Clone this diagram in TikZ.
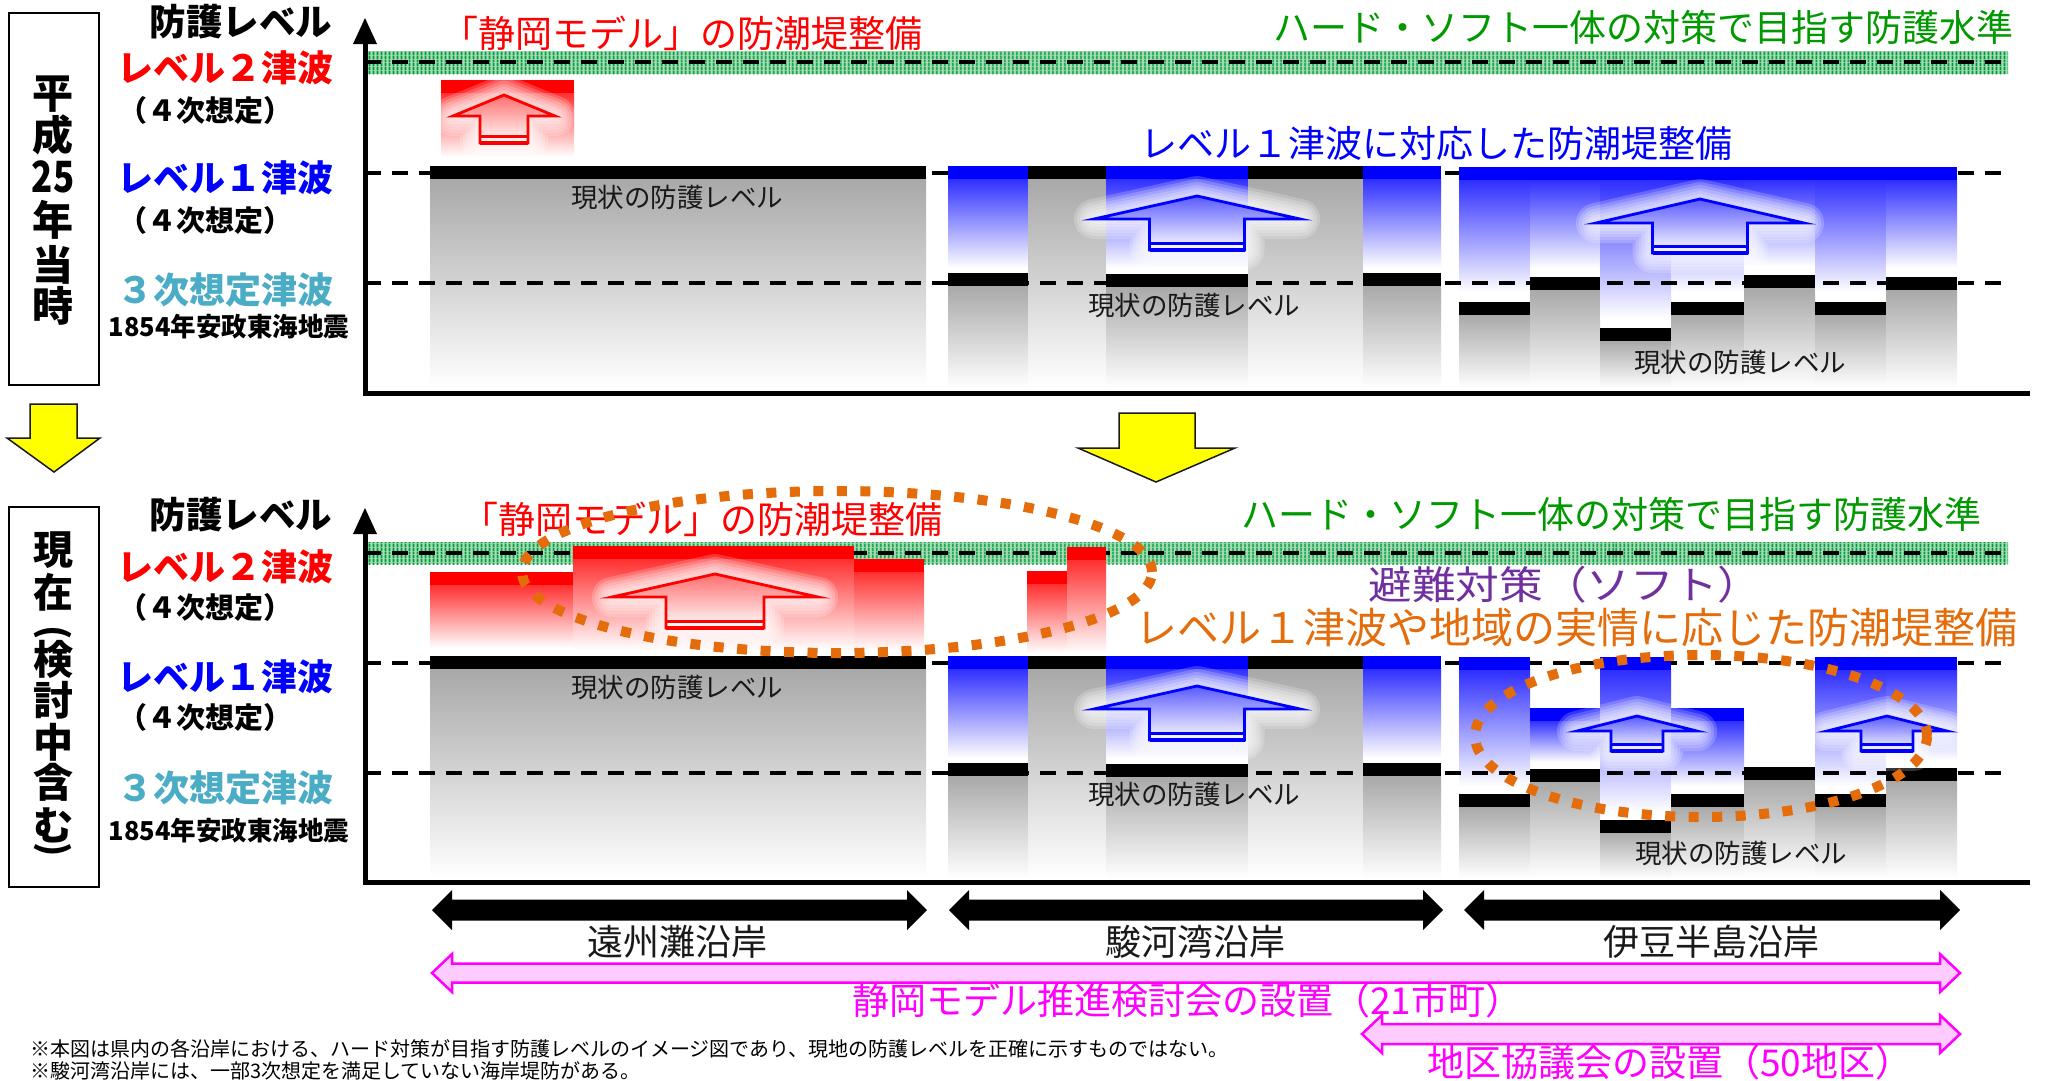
\documentclass[tikz,border=0pt]{standalone}
\usepackage{fontspec}
\usepackage{graphicx}
\usetikzlibrary{patterns.meta}
\newfontfamily\jp{Noto Sans CJK JP}
\definecolor{gtop}{RGB}{168,168,168}
\definecolor{btop}{RGB}{45,45,255}
\definecolor{rtop}{RGB}{255,45,45}
\definecolor{pblue}{RGB}{0,0,255}
\definecolor{pred}{RGB}{255,0,0}
\definecolor{pgreen}{RGB}{0,153,0}
\definecolor{bandgreen}{RGB}{0,150,65}
\definecolor{bandbg}{RGB}{165,222,178}
\definecolor{pcyan}{RGB}{75,172,198}
\definecolor{ppurple}{RGB}{112,48,160}
\definecolor{porange}{RGB}{228,108,10}
\definecolor{pmag}{RGB}{255,0,255}
\definecolor{ppink}{RGB}{255,204,255}
\definecolor{pyellow}{RGB}{255,255,0}
\definecolor{afillb}{RGB}{90,90,255}
\definecolor{afillr}{RGB}{255,110,110}
\definecolor{ink}{RGB}{25,25,25}
\tikzset{
  txt/.style={font=\jp\fontsize{#1}{#1}\selectfont, inner sep=0pt, outer sep=0pt},
  btxt/.style={font=\jp\bfseries\fontsize{#1}{#1}\selectfont, inner sep=0pt, outer sep=0pt},
  lvldash/.style={black, line width=4pt, dash pattern=on 16pt off 11pt},
  dotring/.style={porange, line width=10pt, dash pattern=on 10pt off 13.5pt},
  band/.style={pattern={Lines[angle=90,distance=4pt,line width=2.2pt]}, pattern color=bandgreen},
  axisline/.style={black, line width=5pt},
  blackarrow/.style={fill=black},
  pinkarrow/.style={fill=ppink, draw=pmag, line width=2.5pt, line join=miter},
  yellowarrow/.style={fill=pyellow, draw=ink, line width=1.5pt, line join=miter},
  framebox/.style={draw=black, line width=2.5pt},
  glow/.style={white, opacity=0.2, line width=#1, line join=round},
}
% shaded columns: x1 x2 y1 y2
\newcommand\zGray[4]{\shade[top color=gtop,bottom color=white] (#1,#3) rectangle (#2,#4);}
\newcommand\zBlue[4]{\shade[top color=btop,bottom color=white] (#1,#3) rectangle (#2,#4);}
\newcommand\zRed[4]{\shade[top color=rtop,bottom color=white] (#1,#3) rectangle (#2,#4);}
% bars: x1 x2 ytop
\newcommand\zK[3]{\fill[black] (#1,#3) rectangle (#2,{#3+13});}
\newcommand\zB[3]{\fill[pblue] (#1,#3) rectangle (#2,{#3+13});}
\newcommand\zR[3]{\fill[pred] (#1,#3) rectangle (#2,{#3+13});}
% up arrow: line colour, fill colour, tip x, tip y, head base y, head half, shaft half, bottom y
\newcommand\zUp[8]{%
  \foreach \gw in {40,34,28,22,16,10} {
    \draw[glow=\gw pt] (#3,#4) -- ({#3+#6},#5) -- ({#3+#7},#5) -- ({#3+#7},#8) -- ({#3-#7},#8) -- ({#3-#7},#5) -- ({#3-#6},#5) -- cycle;
  }
  \fill[white,opacity=0.5] (#3,#4) -- ({#3+#6},#5) -- ({#3+#7},#5) -- ({#3+#7},#8) -- ({#3-#7},#8) -- ({#3-#7},#5) -- ({#3-#6},#5) -- cycle;
  \shade[top color=#2,bottom color=white] (#3,#4) -- ({#3+#6},#5) -- ({#3+#7},#5) -- ({#3+#7},#8) -- ({#3-#7},#8) -- ({#3-#7},#5) -- ({#3-#6},#5) -- cycle;
  \draw[#1,line width=2.8pt,line join=miter] (#3,#4) -- ({#3+#6},#5) -- ({#3+#7},#5) -- ({#3+#7},#8) -- ({#3-#7},#8) -- ({#3-#7},#5) -- ({#3-#6},#5) -- cycle;
  \draw[#1,line width=3pt] ({#3-#7},{#8-7}) -- ({#3+#7},{#8-7});
  \draw[#1,line width=4pt] ({#3-#7},#8) -- ({#3+#7},#8);
}
% double arrow: style, x left tip, x right tip, y centre, head half, shaft half
\newcommand\zDbl[6]{\path[#1] (#2,#4) -- ({#2+20},{#4-#5}) -- ({#2+20},{#4-#6}) -- ({#3-20},{#4-#6}) -- ({#3-20},{#4-#5}) -- (#3,#4) -- ({#3-20},{#4+#5}) -- ({#3-20},{#4+#6}) -- ({#2+20},{#4+#6}) -- ({#2+20},{#4+#5}) -- cycle;}

\begin{document}
\begin{tikzpicture}[x=1pt,y=-1pt]
\fill[white] (0,0) rectangle (2045,1080);
\useasboundingbox (0,0) rectangle (2045,1080);

% ===== green bands =====
\fill[bandbg] (365,51) rectangle (2008,74);
\fill[band] (365,51) rectangle (2008,74);
\fill[bandbg] (365,542) rectangle (2008,564);
\fill[band] (365,542) rectangle (2008,564);

% ===== TOP PANEL columns =====
\zGray{430}{926}{178}{388}
\zRed{441}{574}{92}{157}
\zBlue{948}{1028}{178}{268}  \zGray{948}{1028}{285}{388}
\zGray{1028}{1106}{178}{388}
\zBlue{1106}{1248}{178}{268} \zGray{1106}{1248}{286}{388}
\zGray{1248}{1363}{178}{388}
\zBlue{1363}{1441}{178}{268} \zGray{1363}{1441}{285}{388}
\zBlue{1459}{1530}{179}{292} \zGray{1459}{1530}{314}{388}
\zBlue{1530}{1600}{179}{268} \zGray{1530}{1600}{289}{388}
\zBlue{1600}{1671}{179}{318} \zGray{1600}{1671}{340}{388}
\zBlue{1671}{1744}{179}{292} \zGray{1671}{1744}{314}{388}
\zBlue{1744}{1815}{179}{266} \zGray{1744}{1815}{287}{388}
\zBlue{1815}{1886}{179}{292} \zGray{1815}{1886}{314}{388}
\zBlue{1886}{1957}{179}{268} \zGray{1886}{1957}{289}{388}

% ===== BOTTOM PANEL columns =====
\zGray{430}{926}{668}{878}
\zRed{430}{573}{584}{648}
\zRed{573}{854}{558}{650}
\zRed{854}{924}{571}{650}
\zRed{1027}{1067}{583}{653}
\zRed{1067}{1106}{559}{653}
\zBlue{948}{1028}{668}{758}  \zGray{948}{1028}{775}{878}
\zGray{1028}{1106}{668}{878}
\zBlue{1106}{1248}{668}{758} \zGray{1106}{1248}{776}{878}
\zGray{1248}{1363}{668}{878}
\zBlue{1363}{1441}{668}{758} \zGray{1363}{1441}{775}{878}
\zBlue{1459}{1530}{669}{786} \zGray{1459}{1530}{806}{878}
\zBlue{1530}{1600}{720}{762} \zGray{1530}{1600}{781}{878}
\zBlue{1600}{1671}{669}{812} \zGray{1600}{1671}{832}{878}
\zBlue{1671}{1744}{720}{786} \zGray{1671}{1744}{806}{878}
\zGray{1744}{1815}{779}{878}
\zBlue{1815}{1886}{669}{786} \zGray{1815}{1886}{806}{878}
\zBlue{1886}{1957}{669}{760} \zGray{1886}{1957}{780}{878}

% ===== dashed levels =====
\draw[lvldash] (365,62) -- (2008,62);
\draw[lvldash] (365,173) -- (2008,173);
\draw[lvldash] (365,283) -- (2008,283);
\draw[lvldash] (365,553) -- (2008,553);
\draw[lvldash] (365,663) -- (2008,663);
\draw[lvldash] (365,773) -- (2008,773);

% ===== bars top =====
\zK{430}{926}{166}
\zR{441}{574}{80}
\zB{948}{1028}{166} \zK{948}{1028}{273}
\zK{1028}{1106}{166}
\zB{1106}{1248}{166} \zK{1106}{1248}{274}
\zK{1248}{1363}{166}
\zB{1363}{1441}{166} \zK{1363}{1441}{273}
\zB{1459}{1957}{167}
\zK{1459}{1530}{302} \zK{1530}{1600}{277} \zK{1600}{1671}{328} \zK{1671}{1744}{302}
\zK{1744}{1815}{275} \zK{1815}{1886}{302} \zK{1886}{1957}{277}

% ===== bars bottom =====
\zK{430}{926}{656}
\zR{430}{573}{572} \zR{573}{854}{546} \zR{854}{924}{559}
\zR{1027}{1067}{571} \zR{1067}{1106}{547}
\zB{948}{1028}{656} \zK{948}{1028}{763}
\zK{1028}{1106}{656}
\zB{1106}{1248}{656} \zK{1106}{1248}{764}
\zK{1248}{1363}{656}
\zB{1363}{1441}{656} \zK{1363}{1441}{763}
\zB{1459}{1530}{657} \zK{1459}{1530}{794}
\zB{1530}{1600}{708} \zK{1530}{1600}{769}
\zB{1600}{1671}{657} \zK{1600}{1671}{820}
\zB{1671}{1744}{708} \zK{1671}{1744}{794}
\zK{1744}{1815}{767}
\zB{1815}{1886}{657} \zK{1815}{1886}{794}
\zB{1886}{1957}{657} \zK{1886}{1957}{768}

% ===== up arrows =====
\zUp{pred}{afillr}{504}{95}{116}{51}{24}{143}
\zUp{pblue}{afillb}{1197}{196}{219}{103}{47.5}{250}
\zUp{pblue}{afillb}{1700}{199}{223}{104}{47.5}{253}
\zUp{pred}{afillr}{715}{574}{597}{103}{49}{628}
\zUp{pblue}{afillb}{1197}{686}{709}{103}{47.5}{740}
\zUp{pblue}{afillb}{1637}{716}{731}{60}{26}{751}
\zUp{pblue}{afillb}{1887}{716}{731}{60}{26}{751}

% ===== axes =====
\draw[axisline] (365,40) -- (365,396);
\draw[axisline] (363,393.5) -- (2030,393.5);
\fill[black] (365,18) -- (377,44) -- (353,44) -- cycle;
\draw[axisline] (365,530) -- (365,885);
\draw[axisline] (363,882.5) -- (2030,882.5);
\fill[black] (365,508) -- (377,534) -- (353,534) -- cycle;

% ===== frames and yellow arrows =====
\draw[framebox] (9,13) rectangle (99,385);
\draw[framebox] (9,507) rectangle (99,887);
\path[yellowarrow] (30,404) -- (77,404) -- (77,438) -- (100,438) -- (54,472) -- (7,438) -- (30,438) -- cycle;
\path[yellowarrow] (1119,413) -- (1195,413) -- (1195,448) -- (1235,448) -- (1156,482) -- (1078,448) -- (1119,448) -- cycle;

% ===== vertical titles =====
\node[btxt=41] (vA1) at (53,94) {平};
\node[btxt=41] (vA2) at (53,135) {成};
\node[btxt=41] (vA3) at (53,177) {\scalebox{0.85}[1.05]{25}};
\node[btxt=41] (vA4) at (53,220) {年};
\node[btxt=41] (vA5) at (53,265) {当};
\node[btxt=41] (vA6) at (53,306) {時};
\node[btxt=40] (vB1) at (53,550) {現};
\node[btxt=40] (vB2) at (53,592) {在};
\node[btxt=36,rotate=-90] (vB3) at (53,633) {(};
\node[btxt=40] (vB4) at (53,659) {検};
\node[btxt=40] (vB5) at (53,700) {討};
\node[btxt=40] (vB6) at (53,742) {中};
\node[btxt=40] (vB7) at (53,782) {含};
\node[btxt=40] (vB8) at (53,825) {む};
\node[btxt=36,rotate=-90] (vB9) at (53,850) {)};

% ===== left level labels =====
\node[btxt=36.5] (lbA) at (241,22) {防護レベル};
\node[btxt=36,text=pred] (l2A) at (225,68) {レベル２津波};
\node[btxt=29] (s4A) at (205,110) {（４次想定）};
\node[btxt=36,text=pblue] (l1A) at (225,178) {レベル１津波};
\node[btxt=29] (s4B) at (205,220) {（４次想定）};
\node[btxt=36,text=pcyan] (l3A) at (225,290) {３次想定津波};
\node[btxt=26,xscale=0.98,transform shape] (eqA) at (229,327) {1854年安政東海地震};

\node[btxt=36.5] (lbB) at (241,515) {防護レベル};
\node[btxt=36,text=pred] (l2B) at (225,567) {レベル２津波};
\node[btxt=29] (s4C) at (205,607) {（４次想定）};
\node[btxt=36,text=pblue] (l1B) at (225,677) {レベル１津波};
\node[btxt=29] (s4D) at (205,717) {（４次想定）};
\node[btxt=36,text=pcyan] (l3B) at (225,788) {３次想定津波};
\node[btxt=26,xscale=0.98,transform shape] (eqB) at (229,831) {1854年安政東海地震};

% ===== panel texts =====
\node[txt=37,text=pred] (rdA) at (682,33) {「静岡モデル」の防潮堤整備};
\node[txt=37,text=pgreen] (gnA) at (1643,27) {ハード・ソフト一体の対策で目指す防護水準};
\node[txt=37,text=pblue] (blA) at (1436,143) {レベル１津波に対応した防潮堤整備};
\node[txt=26.5,text=ink] (cur1) at (677,197) {現状の防護レベル};
\node[txt=26.5,text=ink] (cur2) at (1194,305) {現状の防護レベル};
\node[txt=26.5,text=ink] (cur3) at (1740,362) {現状の防護レベル};

\node[txt=37,text=pred] (rdB) at (702,519) {「静岡モデル」の防潮堤整備};
\node[txt=37,text=pgreen] (gnB) at (1611,514) {ハード・ソフト一体の対策で目指す防護水準};
\node[txt=39,text=ppurple,xscale=1.12,transform shape] (ppB) at (1565,585) {避難対策（ソフト）};
\node[txt=42,text=porange] (orB) at (1576,628) {レベル１津波や地域の実情に応じた防潮堤整備};
\node[txt=26.5,text=ink] (cur4) at (677,687) {現状の防護レベル};
\node[txt=26.5,text=ink] (cur5) at (1194,794) {現状の防護レベル};
\node[txt=26.5,text=ink] (cur6) at (1741,853) {現状の防護レベル};

% ===== dotted rings =====
\draw[dotring] (837,572) ellipse [x radius=315pt, y radius=81pt];
\draw[dotring] (1701,736) ellipse [x radius=226pt, y radius=81pt];

% ===== coast arrows and labels =====
\zDbl{blackarrow}{432}{927}{910}{20}{10.5}
\zDbl{blackarrow}{949}{1443}{910}{20}{10.5}
\zDbl{blackarrow}{1464}{1960}{910}{20}{10.5}
\node[txt=36,text=ink] (cEn) at (677,942) {遠州灘沿岸};
\node[txt=36,text=ink] (cSu) at (1195,942) {駿河湾沿岸};
\node[txt=36,text=ink] (cIz) at (1711,942) {伊豆半島沿岸};

\zDbl{pinkarrow}{432}{1960}{973}{19}{9.5}
\zDbl{pinkarrow}{1362}{1960}{1034}{19}{10}
\node[txt=37,text=pmag,anchor=west] (mg1) at (852,1000) {静岡モデル推進検討会の設置（21市町）};
\node[txt=37,text=pmag,anchor=west] (mg2) at (1427,1062) {地区協議会の設置（50地区）};

\node[txt=20,text=black,anchor=west] (fn1) at (30,1049) {※本図は県内の各沿岸における、ハード対策が目指す防護レベルのイメージ図であり、現地の防護レベルを正確に示すものではない。};
\node[txt=20,text=black,anchor=west] (fn2) at (30,1071) {※駿河湾沿岸には、一部3次想定を満足していない海岸堤防がある。};
\end{tikzpicture}
\end{document}
